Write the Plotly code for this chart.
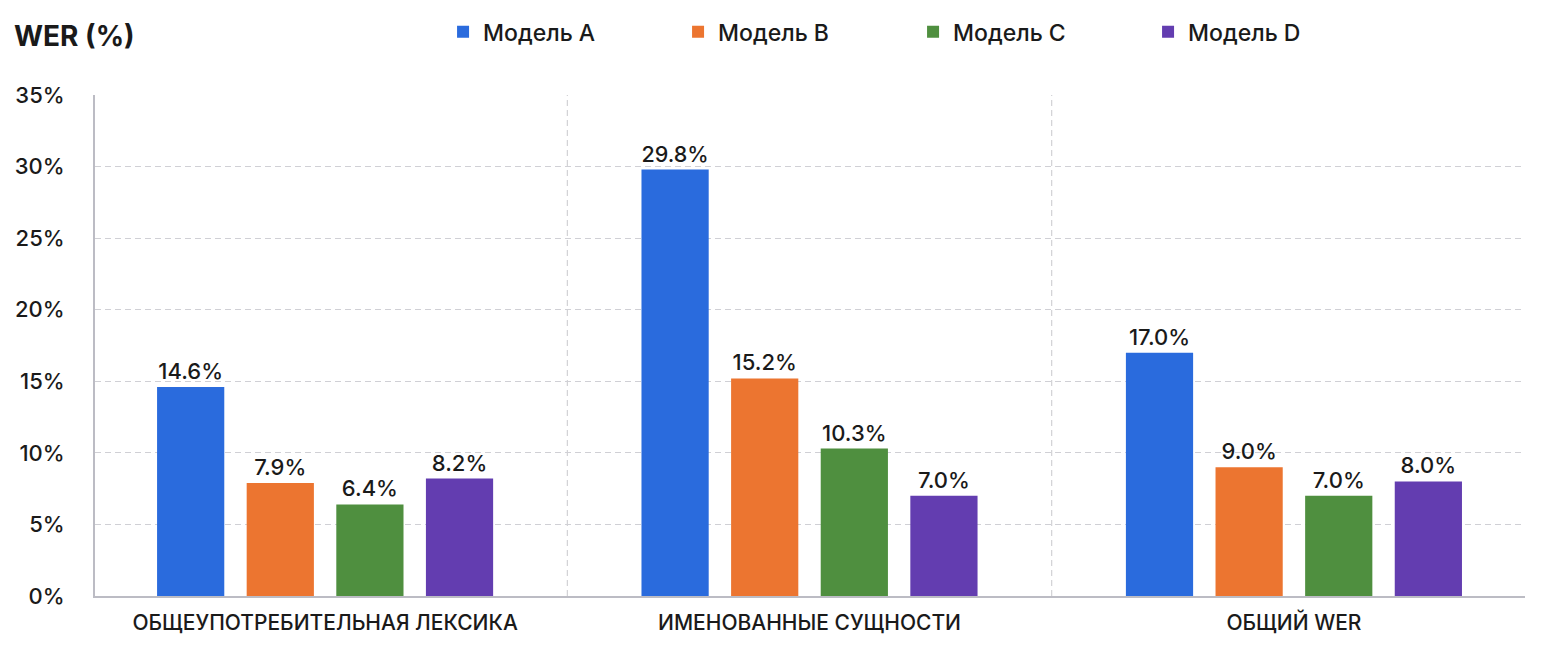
import plotly.graph_objects as go

categories = ["ОБЩЕУПОТРЕБИТЕЛЬНАЯ ЛЕКСИКА", "ИМЕНОВАННЫЕ СУЩНОСТИ", "ОБЩИЙ WER"]
model_a = [14.6, 29.8, 17.0]
model_b = [7.9, 15.2, 9.0]
model_c = [6.4, 10.3, 7.0]
model_d = [8.2, 7.0, 8.0]
series_names = ["Модель A", "Модель B", "Модель C", "Модель D"]
colors = ["#2a6bdd", "#ec7530", "#4f8f3f", "#633db0"]
y_ticks = [0, 5, 10, 15, 20, 25, 30, 35]
y_tick_labels = ["0%", "5%", "10%", "15%", "20%", "25%", "30%", "35%"]

FONT = "Inter, Noto Sans, sans-serif"
TXT = "#1a1a1a"

fig = go.Figure()
for name, vals, col in zip(series_names, [model_a, model_b, model_c, model_d], colors):
    fig.add_trace(go.Bar(
        x=categories, y=vals, name=name,
        marker=dict(color=col, line=dict(width=0)),
        text=[f"{v:.1f}%" for v in vals],
        textposition="outside",
        textfont=dict(size=22, color=TXT, family=FONT, weight=500),
        cliponaxis=False,
    ))

# category separators
for xv in [0.5, 1.5]:
    fig.add_shape(type="line", xref="x", yref="paper", x0=xv, x1=xv, y0=0, y1=1,
                  line=dict(color="#c8c8cc", width=1, dash="6px,4px"), layer="below")

fig.update_layout(
    width=1560, height=649,
    margin=dict(l=95, r=35, t=95, b=53, autoexpand=False),
    paper_bgcolor="white", plot_bgcolor="white",
    barmode="group", bargap=0.26, bargroupgap=0.25,
    font=dict(family=FONT, color=TXT),
    showlegend=True,
    legend=dict(orientation="h", x=0.2434, xanchor="left", y=1.126, yanchor="middle",
                font=dict(size=23, family=FONT, color=TXT, weight=500),
                entrywidth=190, itemwidth=30, traceorder="normal"),
    annotations=[dict(text="<b>WER (%)</b>", xref="paper", yref="paper",
                      x=-0.058, y=1.118, xanchor="left", yanchor="middle",
                      showarrow=False, font=dict(size=28, family=FONT, color=TXT))],
)
fig.update_xaxes(
    range=[-0.475, 2.477], showgrid=False,
    showline=True, linecolor="#bcbcc4", linewidth=2,
    tickfont=dict(size=21, family=FONT, color=TXT, weight=500),
    ticks="", ticklabelstandoff=7,
)
fig.update_yaxes(
    range=[0, 35], tickvals=y_ticks, ticktext=y_tick_labels,
    showgrid=True, gridcolor="#d0d0d5", griddash="6px,4px", gridwidth=1,
    showline=True, linecolor="#bcbcc4", linewidth=2,
    zeroline=False,
    tickfont=dict(size=22, family=FONT, color=TXT, weight=500),
    ticks="", ticklabelstandoff=24,
)

fig.write_html("out.html")
